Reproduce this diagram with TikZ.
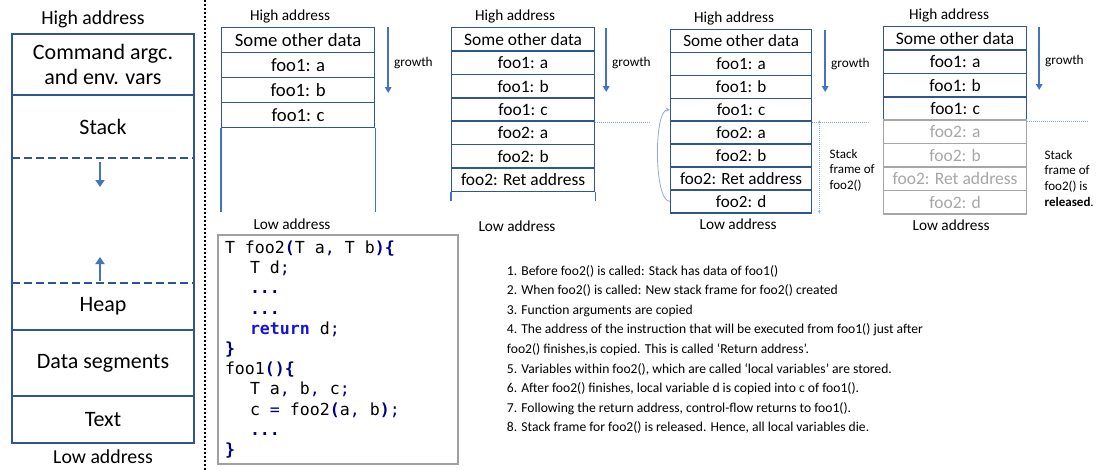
\documentclass[tikz,border=0pt]{standalone}
\usepackage{fontspec}
\setmainfont{Carlito}
\newfontfamily\codefont{DejaVu Sans Mono}
\usetikzlibrary{matrix,positioning,arrows.meta}

\definecolor{boxblue}{HTML}{2F5597}
\definecolor{growblue}{HTML}{4472C4}
\definecolor{paleblue}{HTML}{8FAADC}
\definecolor{fadegray}{HTML}{A6A6A6}
\definecolor{codegray}{HTML}{A0A0A0}
\definecolor{codenavy}{HTML}{000080}
\definecolor{codekw}{HTML}{1414E0}

\newcommand\codebr[1]{{\color{codenavy}\bfseries #1}}
\newcommand\codepn[1]{{\color{codenavy}#1}}
\newcommand\codekw[1]{{\color{codekw}\bfseries #1}}
\newcommand\codeind{\hspace*{25pt}}
\newcommand\codesp{\hspace*{0.602em}}

\begin{document}
\begin{tikzpicture}[x=1pt,y=-1pt,
stk/.style={matrix of nodes, inner sep=0pt, anchor=north west, line width=1.6pt, row sep=-\pgflinewidth, nodes={draw=boxblue, inner sep=0pt, anchor=center}},
faded/.style={nodes={draw=fadegray, text=fadegray}},
memcell/.style={minimum width=182pt, inner sep=0pt, outer sep=0pt, align=center, font=\fontsize{22}{25}\selectfont},
memline/.style={draw=boxblue, line width=2.2pt},
addr/.style={inner sep=0pt, font=\fontsize{15.3}{17}\selectfont},
growarrow/.style={draw=growblue, line width=1.8pt, -{Triangle[width=6.5pt,length=6pt]}},
memarrow/.style={draw=growblue, line width=2.4pt, -{Triangle[width=9pt,length=7pt]}},
side/.style={draw=growblue, line width=1.6pt},
cut/.style={draw=paleblue, line width=0.6pt, dash pattern=on 1pt off 1pt},
note/.style={inner sep=0pt, align=left, font=\fontsize{13}{15.7}\selectfont},
gro/.style={inner sep=0pt, yshift=-3pt, font=\fontsize{13.3}{15}\selectfont}]

\useasboundingbox (0,0) rectangle (1100,471);

% memory layout
\node[memcell, minimum height=61pt] (mcmd) at (103,64.5) {Command argc.\\and env. vars};
\node[memcell, minimum height=63pt, below=0pt of mcmd] (mstack) {Stack};
\node[memcell, minimum height=125pt, below=0pt of mstack] (mgap) {};
\node[memcell, minimum height=47pt, below=0pt of mgap] (mheap) {Heap};
\node[memcell, minimum height=66pt, below=0pt of mheap] (mdata) {Data segments};
\node[memcell, minimum height=47pt, below=0pt of mdata] (mtext) {Text};
\node[addr, font=\fontsize{19.8}{22}\selectfont, above=6pt of mcmd, xshift=-10pt] (mhigh) {High address};
\node[addr, font=\fontsize{19.8}{22}\selectfont, below=7pt of mtext] (mlow) {Low address};

\draw[memline] (mcmd.north west) rectangle (mtext.south east);
\draw[memline] (mcmd.south west) -- (mcmd.south east);
\draw[memline, dash pattern=on 8pt off 4pt] (mstack.south west) -- (mstack.south east);
\draw[memline, dash pattern=on 8pt off 4pt] (mheap.north west) -- (mheap.north east);
\draw[memline] (mdata.north west) -- (mdata.north east);
\draw[memline] (mtext.north west) -- (mtext.north east);
\draw[memarrow] ([xshift=-3pt,yshift=-4pt]mgap.north) -- ++(0,25);
\draw[memarrow] ([xshift=-3pt,yshift=2pt]mgap.south) -- ++(0,-24);

\draw[line width=2pt, dash pattern=on 2pt off 2pt] (205,0) -- (205,471);

% stack 1
\matrix (s1) [stk, nodes={minimum width=153pt, minimum height=25pt, font=\fontsize{18.7}{20}\selectfont}] at (220,26) {
    Some other data \\ foo1: a \\ foo1: b \\ foo1: c \\};
\node[addr, above=3pt of s1, xshift=-8pt] (hi1) {High address};
\node[addr] (lo1) at (292,224) {Low address};
\draw[side] (s1-4-1.south west) -- ++(0,84);
\draw[side] (s1-4-1.south east) -- ++(0,84);
\draw[growarrow] ([xshift=12pt,yshift=-1pt]s1.north east) -- ++(0,66) node[midway, right=5pt, gro] {growth};

% stack 2
\matrix (s2) [stk, nodes={minimum width=143pt, minimum height=23.4pt, font=\fontsize{17.4}{19}\selectfont}] at (450,26) {
    Some other data \\ foo1: a \\ foo1: b \\ foo1: c \\ foo2: a \\ foo2: b \\ foo2: Ret address \\};
\node[addr, above=3pt of s2, xshift=-8pt] (hi2) {High address};
\node[addr] (lo2) at (517,226) {Low address};
\draw[side] (s2-7-1.south west) -- ++(0,9);
\draw[side] (s2-7-1.south east) -- ++(0,9);
\draw[growarrow] ([xshift=10pt,yshift=-2pt]s2.north east) -- ++(0,64) node[midway, right=5pt, gro] {growth};
\draw[cut] (s2-4-1.south east) -- ++(55,0);

% stack 3
\matrix (s3) [stk, nodes={minimum width=141pt, minimum height=22.9pt, font=\fontsize{17.1}{19}\selectfont}] at (669,28) {
    Some other data \\ foo1: a \\ foo1: b \\ foo1: c \\ foo2: a \\ foo2: b \\ foo2: Ret address \\ foo2: d \\};
\node[addr, above=3pt of s3, xshift=-7pt] (hi3) {High address};
\node[addr, below=4pt of s3, xshift=-3pt] (lo3) {Low address};
\draw[growarrow] ([xshift=12pt,yshift=-2pt]s3.north east) -- ++(0,62) node[midway, right=5pt, gro] {growth};
\draw[cut] (s3-4-1.south east) -- ++(58,0);
\draw[cut, {Stealth[length=3pt,width=3pt]}-{Stealth[length=3pt,width=3pt]}] ([xshift=7pt]s3-5-1.north east) -- ([xshift=7pt]s3-8-1.south east);
\node[note, anchor=west] (fr3) at ([xshift=17pt,yshift=-4pt]s3-7-1.north east) {Stack\\frame of\\foo2()};
\draw[paleblue, line width=0.8pt, -{Stealth[length=4pt,width=4pt]}] (s3-8-1.west) to[out=180,in=180,looseness=0.45] (s3-4-1.west);

% stack 4
\matrix (s4) [stk, nodes={minimum width=143pt, minimum height=23.4pt, font=\fontsize{17.5}{19}\selectfont},
    row 5/.style={faded}, row 6/.style={faded}, row 7/.style={faded}, row 8/.style={faded}] at (882,25) {
    Some other data \\ foo1: a \\ foo1: b \\ foo1: c \\ foo2: a \\ foo2: b \\ foo2: Ret address \\ foo2: d \\};
\node[addr, above=3pt of s4, xshift=-6pt] (hi4) {High address};
\node[addr, below=4pt of s4, xshift=-4pt] (lo4) {Low address};
\draw[growarrow] ([xshift=11pt,yshift=-2pt]s4.north east) -- ++(0,63) node[midway, right=5pt, gro] {growth};
\draw[cut] (s4-4-1.south east) -- ++(62,0);
\node[note, anchor=west] (fr4) at ([xshift=17pt,yshift=-12pt]s4-7-1.north east) {Stack\\frame of\\foo2() is\\\textbf{released}.};

% code
\node[draw=codegray, line width=1.5pt, minimum width=240pt, minimum height=229pt, text width=226pt, inner xsep=7pt, inner ysep=0pt, align=left, font=\codefont\fontsize{16.6}{20.2}\selectfont] (code) at (338,349.5) {%
T\codesp foo2\codebr{(}T\codesp a\codepn{,}\codesp T\codesp b\codebr{)}\codebr{\{}\\
\codeind T\codesp d\codepn{;}\\
\codeind \codebr{...}\\
\codeind \codebr{...}\\
\codeind \codekw{return}\codesp d\codepn{;}\\
\codebr{\}}\\
foo1\codebr{(}\codebr{)}\codebr{\{}\\
\codeind T\codesp a\codepn{,}\codesp b\codepn{,}\codesp c\codepn{;}\\
\codeind c\codesp\codepn{=}\codesp foo2\codebr{(}a\codepn{,}\codesp b\codebr{)}\codepn{;}\\
\codeind \codebr{...}\\
\codebr{\}}};

% steps
\node[right=48pt of code, align=left, inner sep=0pt, font=\fontsize{13.6}{19.6}\selectfont] (steps) {%
1. Before foo2() is called: Stack has data of foo1()\\
2. When foo2() is called: New stack frame for foo2() created\\
3. Function arguments are copied\\
4. The address of the instruction that will be executed from foo1() just after\\
foo2() finishes,is copied. This is called ‘Return address’.\\
5. Variables within foo2(), which are called ‘local variables’ are stored.\\
6. After foo2() finishes, local variable d is copied into c of foo1().\\
7. Following the return address, control-flow returns to foo1().\\
8. Stack frame for foo2() is released. Hence, all local variables die.};

\end{tikzpicture}
\end{document}
